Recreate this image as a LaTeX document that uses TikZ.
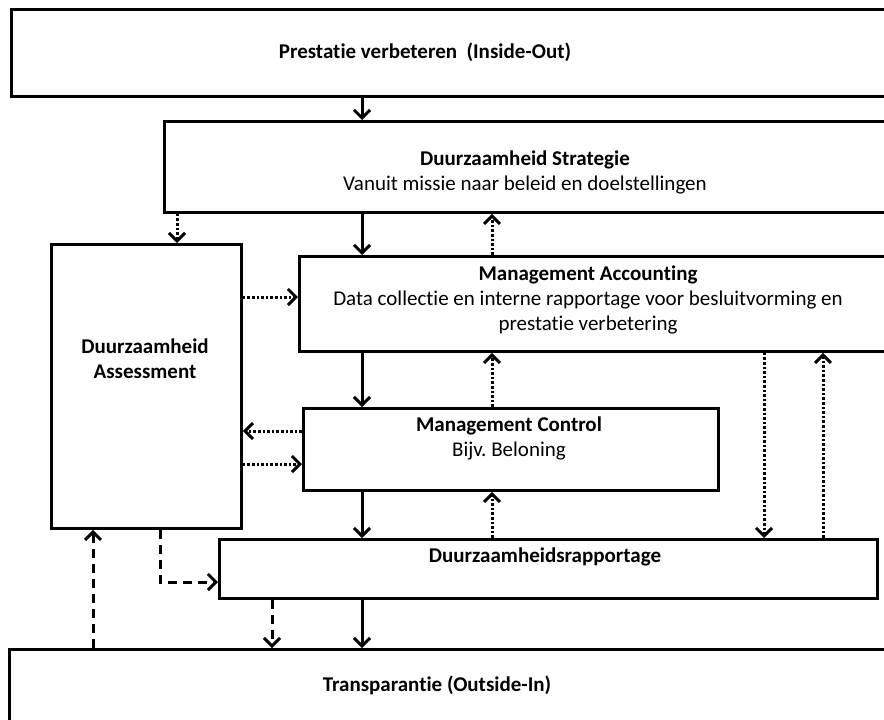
\documentclass[tikz,border=0pt]{standalone}
\usepackage{fontspec}
\setmainfont[Ligatures=NoCommon]{Carlito}
\frenchspacing
\usetikzlibrary{arrows.meta}

\begin{document}
\begin{tikzpicture}[x=1pt,y=-1pt,>={Straight Barb[length=8pt,width=16pt]},line width=3pt,
      box/.style={draw,line width=2.8pt,anchor=north west,inner sep=0pt},
      txt/.style={font=\fontsize{21}{25}\selectfont,align=center,inner sep=0pt},
      dots/.style={dash pattern=on 2.6pt off 2pt},
      dashline/.style={dash pattern=on 9pt off 6pt}]
    \useasboundingbox (0,0) rectangle (884,720);
    \clip (0,0) rectangle (884,720);
    % boxes
    \node[box,minimum width=1000,minimum height=87] (prest) at (10,8) {};
    \node[box,minimum width=800,minimum height=91] (strat) at (163,120) {};
    \node[box,minimum width=190,minimum height=284] (assess) at (50,243) {};
    \node[box,minimum width=700,minimum height=95] (acc) at (298,255) {};
    \node[box,minimum width=415,minimum height=82] (ctrl) at (302,407) {};
    \node[box,minimum width=658,minimum height=59] (rapp) at (218,538) {};
    \node[box,minimum width=1000,minimum height=200] (transp) at (8,648) {};
    % texts
    \node[txt] (prestT) at (425,52) {\bfseries Prestatie verbeteren\ \ (Inside-Out)};
    \node[txt] (stratT) at (525,172) {\bfseries Duurzaamheid Strategie\\Vanuit missie naar beleid en doelstellingen};
    \node[txt] (assessT) at (145,359) {\bfseries Duurzaamheid\\\bfseries Assessment};
    \node[txt] (accT) at (588,300) {\bfseries Management Accounting\\Data collectie en interne rapportage voor besluitvorming en\\prestatie verbetering};
    \node[txt] (ctrlT) at (509,438) {\bfseries Management Control\\Bijv. Beloning};
    \node[txt] (rappT) at (545,557) {\bfseries Duurzaamheidsrapportage};
    \node[txt] (transpT) at (437,685) {\bfseries Transparantie (Outside-In)};
    % columns and rows for the connectors
    \coordinate (colA) at (362,0);
    \coordinate (colB) at (492,0);
    \coordinate (colC) at (764,0);
    \coordinate (colD) at (823,0);
    \coordinate (colE) at (177,0);
    \coordinate (colF) at (93,0);
    \coordinate (colG) at (272,0);
    \coordinate (colH) at (160,0);
    \coordinate (rowA) at (0,297);
    \coordinate (rowB) at (0,431);
    \coordinate (rowC) at (0,464);
    \coordinate (rowD) at (0,582);
    % solid flow
    \draw[->] (prest.south -| colA) -- (strat.north -| colA);
    \draw[->] (strat.south -| colA) -- (acc.north -| colA);
    \draw[->] (acc.south -| colA) -- (ctrl.north -| colA);
    \draw[->] (ctrl.south -| colA) -- (rapp.north -| colA);
    \draw[->] (rapp.south -| colA) -- (transp.north -| colA);
    % dotted feedback
    \draw[->,dots] (strat.south -| colE) -- (assess.north -| colE);
    \draw[->,dots] (acc.north -| colB) -- (strat.south -| colB);
    \draw[->,dots] (ctrl.north -| colB) -- (acc.south -| colB);
    \draw[->,dots] (rapp.north -| colB) -- (ctrl.south -| colB);
    \draw[->,dots] (assess.east |- rowA) -- (acc.west |- rowA);
    \draw[->,dots] (ctrl.west |- rowB) -- (assess.east |- rowB);
    \draw[->,dots] (assess.east |- rowC) -- (ctrl.west |- rowC);
    \draw[->,dots] (acc.south -| colC) -- (rapp.north -| colC);
    \draw[->,dots] (rapp.north -| colD) -- (acc.south -| colD);
    % dashed
    \draw[->,dashline] (assess.south -| colH) |- (rapp.west |- rowD);
    \draw[->,dashline] (transp.north -| colF) -- (assess.south -| colF);
    \draw[->,dashline] (rapp.south -| colG) -- (transp.north -| colG);
\end{tikzpicture}
\end{document}
